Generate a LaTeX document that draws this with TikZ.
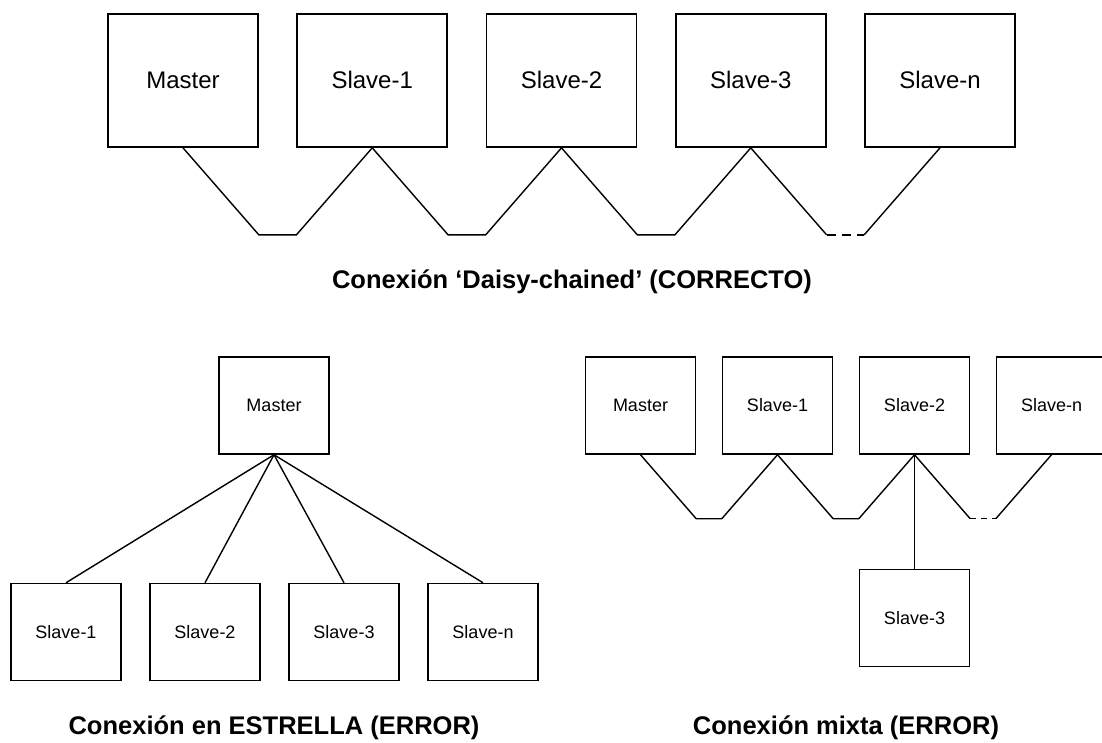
\documentclass[tikz,border=0pt]{standalone}
\usepackage{fontspec}
\setmainfont{Liberation Sans}
\begin{document}
\begin{tikzpicture}[x=1pt,y=-1pt,
	grande/.style={draw,line width=1.7pt,minimum width=150pt,minimum height=133pt,text height=16pt,text depth=0pt,font=\fontsize{24}{28}\selectfont},
	chica/.style={draw,line width=1.5pt,minimum width=110pt,minimum height=97pt,text height=12pt,text depth=0pt,font=\fontsize{18}{22}\selectfont},
	cable/.style={line width=1.4pt},
	titulo/.style={font=\bfseries\fontsize{25.5}{30}\selectfont}]
	\useasboundingbox (0,0) rectangle (1102,742);
	\clip (0,0) rectangle (1102,742);
	% daisy-chained
	\foreach \x/\t in {0/Master,1/Slave-1,2/Slave-2,3/Slave-3,4/Slave-n}{
		\node[grande,name=A\x] at ({183+189.25*\x},80.5){\t};
	}
	\foreach \x/\y in {0/1,1/2,2/3}{
		\draw[cable] (A\x.south)--([yshift=-87pt]A\x.south east)--([yshift=-87pt]A\y.south west)--(A\y.south);
	};
	\draw[cable] (A3.south)--([yshift=-87pt]A3.south east) coordinate (a1);
	\draw[cable] (A4.south)--([yshift=-87pt]A4.south west) coordinate (a2);
	\draw[cable,dash pattern=on 9pt off 6pt] (a1)--(a2);
	\node[titulo,name=T1] at (572,282){Conexión ‘Daisy-chained’ (CORRECTO)};
	% estrella
	\node[chica,name=B0] at (274,405.5){Master};
	\foreach \x/\t in {1/Slave-1,2/Slave-2,3/Slave-3,4/Slave-n}{
		\node[chica,name=B\x] at ({66+139*(\x-1)},632){\t};
		\draw[cable] (B0.south)--(B\x.north);
	}
	\node[titulo,name=T2] at (274,728){Conexión en ESTRELLA (ERROR)};
	% mixta
	\foreach \x/\t in {0/Master,1/Slave-1,2/Slave-2,4/Slave-n}{
		\node[chica,name=C\x] at ({640.5+137*min(\x,3)},405.5){\t};
	}
	\node[chica,name=C3] at (914.5,618){Slave-3};
	\foreach \x/\y in {0/1,1/2}{
		\draw[cable] (C\x.south)--([yshift=-64pt]C\x.south east)--([yshift=-64pt]C\y.south west)--(C\y.south);
	};
	\draw[cable] (C2.south)--([yshift=-64pt]C2.south east) coordinate (c1);
	\draw[cable] (C4.south)--([yshift=-64pt]C4.south west) coordinate (c2);
	\draw[cable,dash pattern=on 6pt off 5pt] (c1)--(c2);
	\draw[cable] (C2.south)--(C3.north);
	\node[titulo,name=T3] at (846,728){Conexión mixta (ERROR)};
\end{tikzpicture}
\end{document}
